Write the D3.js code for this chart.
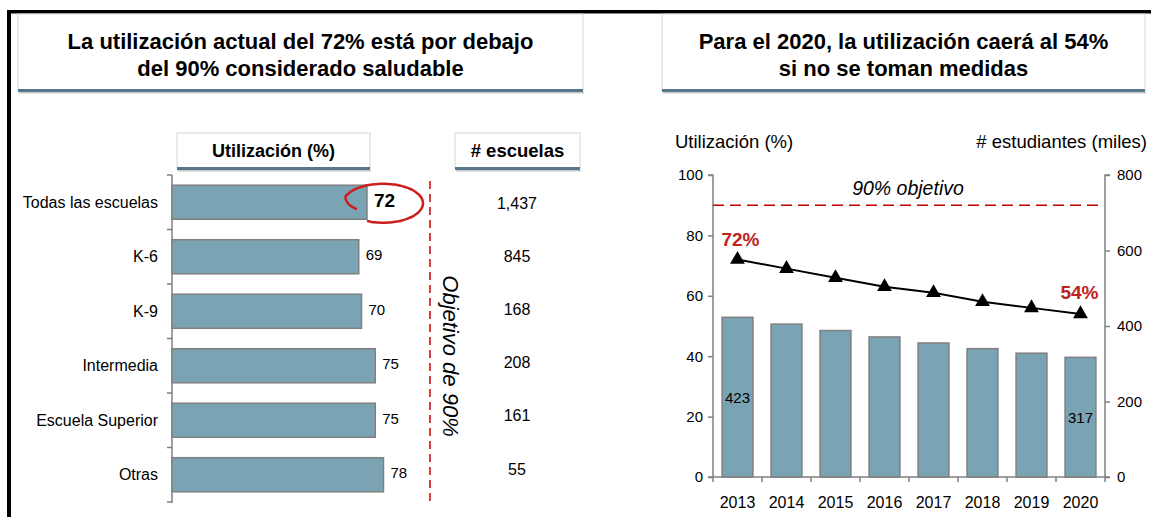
<!DOCTYPE html>
<html>
<head>
<meta charset="utf-8">
<script src="https://cdn.jsdelivr.net/npm/d3@7"></script>
<style>
  html, body { margin: 0; padding: 0; background: #fff; }
  svg { display: block; font-family: "Liberation Sans", Arial, sans-serif; }
</style>
</head>
<body>
<svg id="chart" width="1151" height="517"></svg>
<script>
// ---------- DATA ----------
const categories = ["Todas las escuelas", "K-6", "K-9", "Intermedia", "Escuela Superior", "Otras"];
const utilization = [72, 69, 70, 75, 75, 78];
const schoolCounts = ["1,437", "845", "168", "208", "161", "55"];

const years = ["2013", "2014", "2015", "2016", "2017", "2018", "2019", "2020"];
const utilizationTrend = [72, 69, 66, 63, 61, 58, 56, 54];
const students = [423, 405, 388, 371, 355, 340, 328, 317];

const leftTicks = [0, 20, 40, 60, 80, 100];
const rightTicks = [0, 200, 400, 600, 800];
const goal = 90;

const titleLeft = ["La utilización actual del 72% está por debajo", "del 90% considerado saludable"];
const titleRight = ["Para el 2020, la utilización caerá al 54%", "si no se toman medidas"];

// ---------- STYLE ----------
const barFill = "#7aa3b3";
const barStroke = "#808080";
const axisColor = "#808080";
const red = "#c00000";
const labelRed = "#c0221c";
const teal = "#56788a";

const svg = d3.select("#chart");

// ---------- FRAME ----------
svg.append("rect").attr("x", 7).attr("y", 10).attr("width", 1151).attr("height", 3.5).attr("fill", "#000");
svg.append("rect").attr("x", 7).attr("y", 10).attr("width", 4).attr("height", 510).attr("fill", "#000");

// ---------- TITLE BOXES ----------
function headerBox(x0, x1, y0, y1, lines, size, lineGap, cyOverride) {
  const g = svg.append("g");
  g.append("rect").attr("x", x0).attr("y", y0).attr("width", x1 - x0).attr("height", y1 - y0)
    .attr("fill", "#fff").attr("stroke", "#d6d6d6").attr("stroke-width", 1);
  g.append("rect").attr("x", x0 + 1).attr("y", y1 + 2).attr("width", x1 - x0).attr("height", 1.5).attr("fill", "#c8c8c8");
  g.append("rect").attr("x", x0).attr("y", y1 - 1).attr("width", x1 - x0).attr("height", 3).attr("fill", teal);
  const cx = (x0 + x1) / 2;
  const n = lines.length;
  const cy = cyOverride != null ? cyOverride : (y0 + y1) / 2;
  lines.forEach((t, i) => {
    g.append("text").attr("x", cx).attr("y", cy + (i - (n - 1) / 2) * lineGap)
      .attr("text-anchor", "middle").attr("dominant-baseline", "central")
      .attr("font-size", size).attr("font-weight", "bold").attr("fill", "#000").text(t);
  });
}
headerBox(18, 583, 14, 90, titleLeft, 22, 27, 55);
headerBox(662, 1145, 14, 90, titleRight, 22, 27, 55);

// ================= LEFT CHART =================
const axisX = 172;
const xL = d3.scaleLinear().domain([0, 100]).range([169, 444]);
const yL = d3.scaleBand().domain(categories).range([175, 502]).paddingInner(0.375).paddingOuter(0.1875);
const yCount = d3.scaleBand().domain(categories).range([176.4, 495.6]);

headerBox(177, 370, 133, 168, ["Utilización (%)"], 18, 0);
headerBox(455, 580, 133, 168, ["# escuelas"], 18.5, 0);

// axis
const leftAxisG = svg.append("g").attr("transform", `translate(${axisX},0)`);
leftAxisG.append("line").attr("x1", 0).attr("x2", 0).attr("y1", 175).attr("y2", 503)
  .attr("stroke", axisColor).attr("stroke-width", 1.5);
const bounds = categories.map(c => yL(c) - yL.step() * yL.paddingInner() / 2);
bounds.push(502);
leftAxisG.selectAll("line.tk").data(bounds).join("line").attr("class", "tk")
  .attr("x1", -5).attr("x2", 0).attr("y1", d => d).attr("y2", d => d)
  .attr("stroke", axisColor).attr("stroke-width", 1.5);

// category labels
svg.selectAll("text.cat").data(categories).join("text").attr("class", "cat")
  .attr("x", 158).attr("y", d => yL(d) + yL.bandwidth() / 2)
  .attr("text-anchor", "end").attr("dominant-baseline", "central")
  .attr("font-size", 16).attr("fill", "#000").text(d => d);

// bars
svg.selectAll("rect.hbar").data(utilization).join("rect").attr("class", "hbar")
  .attr("x", axisX).attr("y", (d, i) => yL(categories[i]))
  .attr("width", d => xL(d) - axisX).attr("height", yL.bandwidth())
  .attr("fill", barFill).attr("stroke", barStroke).attr("stroke-width", 1.5);

// value labels
svg.selectAll("text.val").data(utilization).join("text").attr("class", "val")
  .attr("x", (d, i) => xL(d) + (i === 0 ? 7 : 7))
  .attr("y", (d, i) => yL(categories[i]) + yL.bandwidth() / 2 - 2)
  .attr("dominant-baseline", "central")
  .attr("font-size", (d, i) => i === 0 ? 19 : 15)
  .attr("font-weight", (d, i) => i === 0 ? "bold" : "normal")
  .attr("fill", "#000").text(d => d);

// counts
svg.selectAll("text.cnt").data(schoolCounts).join("text").attr("class", "cnt")
  .attr("x", 517).attr("y", (d, i) => yCount(categories[i]) + yCount.bandwidth() / 2)
  .attr("text-anchor", "middle").attr("dominant-baseline", "central")
  .attr("font-size", 16).attr("fill", "#000").text(d => d);

// objective dashed line (annotation)
const objX = xL(goal) + 13.5;
svg.append("line").attr("x1", objX).attr("x2", objX).attr("y1", 181).attr("y2", 506)
  .attr("stroke", red).attr("stroke-width", 1.5).attr("stroke-dasharray", "8,5");
svg.append("text").attr("transform", `translate(${objX + 20},356) rotate(90)`)
  .attr("text-anchor", "middle").attr("dominant-baseline", "central")
  .attr("font-size", 22).attr("font-style", "italic").attr("fill", "#000").text("Objetivo de 90%");

// hand-drawn circle around 72
{
  const c0 = yL(categories[0]) + yL.bandwidth() / 2;
  const cx = xL(utilization[0]) + 16, cy = c0 + 1, rx = 40, ry = 19.5;
  const pts = [];
  for (let t = 112; t >= -205; t -= 5) {
    const shrink = t < -160 ? 1 - (-160 - t) / 45 * 0.28 : 1;
    const a = t * Math.PI / 180;
    pts.push([cx + rx * shrink * Math.cos(a), cy + ry * shrink * Math.sin(a)]);
  }
  svg.append("path").attr("d", d3.line().curve(d3.curveCatmullRom)(pts))
    .attr("fill", "none").attr("stroke", "#cc1f1f").attr("stroke-width", 2.5).attr("stroke-linecap", "round");
}

// ================= RIGHT CHART =================
const x0R = 713, x1R = 1105;
const xR = d3.scaleBand().domain(years).range([x0R, x1R]).paddingInner(0.37).paddingOuter(0.185);
const yPct = d3.scaleLinear().domain([0, 100]).range([477, 175]);
const yStu = d3.scaleLinear().domain([0, 800]).range([477, 175]);

svg.append("text").attr("x", 675).attr("y", 141).attr("dominant-baseline", "central")
  .attr("font-size", 18.5).attr("fill", "#000").text("Utilización (%)");
svg.append("text").attr("x", 1147).attr("y", 141).attr("text-anchor", "end").attr("dominant-baseline", "central")
  .attr("font-size", 18.5).attr("fill", "#000").text("# estudiantes (miles)");

// bars
svg.selectAll("rect.vbar").data(students).join("rect").attr("class", "vbar")
  .attr("x", (d, i) => xR(years[i])).attr("y", d => yStu(d))
  .attr("width", xR.bandwidth()).attr("height", d => yStu(0) - yStu(d))
  .attr("fill", barFill).attr("stroke", barStroke).attr("stroke-width", 1.5);

// bar labels (first & last)
[0, students.length - 1].forEach(i => {
  svg.append("text").attr("x", xR(years[i]) + xR.bandwidth() / 2)
    .attr("y", (yStu(students[i]) + yStu(0)) / 2)
    .attr("text-anchor", "middle").attr("dominant-baseline", "central")
    .attr("font-size", 15).attr("fill", "#000").text(students[i]);
});

// axes
const axL = svg.append("g").attr("transform", `translate(${x0R},0)`)
  .call(d3.axisLeft(yPct).tickValues(leftTicks).tickSize(5).tickPadding(5));
const axR = svg.append("g").attr("transform", `translate(${x1R},0)`)
  .call(d3.axisRight(yStu).tickValues(rightTicks).tickSize(5).tickPadding(7));
[axL, axR].forEach(a => {
  a.select(".domain").attr("stroke", axisColor).attr("stroke-width", 1.5);
  a.selectAll(".tick line").attr("stroke", axisColor).attr("stroke-width", 1.5);
  a.selectAll(".tick text").attr("font-size", 15).attr("fill", "#000")
    .attr("font-family", "Liberation Sans, Arial, sans-serif");
});
axR.selectAll(".domain").attr("d", `M5,${yStu(800)}H0V${yStu(0)}H5`);
axL.selectAll(".domain").attr("d", `M-5,${yPct(100)}H0V${yPct(0)}H-5`);

// x axis
const axB = svg.append("g").attr("transform", `translate(0,${yPct(0)})`);
axB.append("line").attr("x1", x0R).attr("x2", x1R).attr("y1", 0).attr("y2", 0)
  .attr("stroke", axisColor).attr("stroke-width", 1.5);
const xb = years.map(y => xR(y) - xR.step() * xR.paddingInner() / 2);
xb.push(x1R);
axB.selectAll("line.tk").data(xb).join("line").attr("class", "tk")
  .attr("x1", d => d).attr("x2", d => d).attr("y1", 0).attr("y2", 5)
  .attr("stroke", axisColor).attr("stroke-width", 1.5);
axB.selectAll("text").data(years).join("text")
  .attr("x", d => xR(d) + xR.bandwidth() / 2).attr("y", 25)
  .attr("text-anchor", "middle").attr("dominant-baseline", "central")
  .attr("font-size", 16).attr("fill", "#000").text(d => d);

// 90% objective line
svg.append("line").attr("x1", x0R).attr("x2", 1098).attr("y1", yPct(goal)).attr("y2", yPct(goal))
  .attr("stroke", red).attr("stroke-width", 1.5).attr("stroke-dasharray", "11,6");
svg.append("text").attr("x", 908).attr("y", yPct(goal) - 17)
  .attr("text-anchor", "middle").attr("dominant-baseline", "central")
  .attr("font-size", 19.5).attr("font-style", "italic").attr("fill", "#000").text("90% objetivo");

// line + triangles
const cxR = i => xR(years[i]) + xR.bandwidth() / 2;
svg.append("path")
  .attr("d", d3.line().x((d, i) => cxR(i)).y(d => yPct(d))(utilizationTrend))
  .attr("fill", "none").attr("stroke", "#000").attr("stroke-width", 2);
svg.selectAll("path.tri").data(utilizationTrend).join("path").attr("class", "tri")
  .attr("transform", (d, i) => `translate(${cxR(i)},${yPct(d)})`)
  .attr("d", d3.symbol().type(d3.symbolTriangle).size(95)).attr("fill", "#000");

// percent labels
const last = utilizationTrend.length - 1;
svg.append("text").attr("x", cxR(0) + 3).attr("y", yPct(utilizationTrend[0]) - 20)
  .attr("text-anchor", "middle").attr("dominant-baseline", "central")
  .attr("font-size", 19).attr("font-weight", "bold").attr("fill", labelRed).text(utilizationTrend[0] + "%");
svg.append("text").attr("x", cxR(last) - 1).attr("y", yPct(utilizationTrend[last]) - 21)
  .attr("text-anchor", "middle").attr("dominant-baseline", "central")
  .attr("font-size", 19).attr("font-weight", "bold").attr("fill", labelRed).text(utilizationTrend[last] + "%");
</script>
</body>
</html>
